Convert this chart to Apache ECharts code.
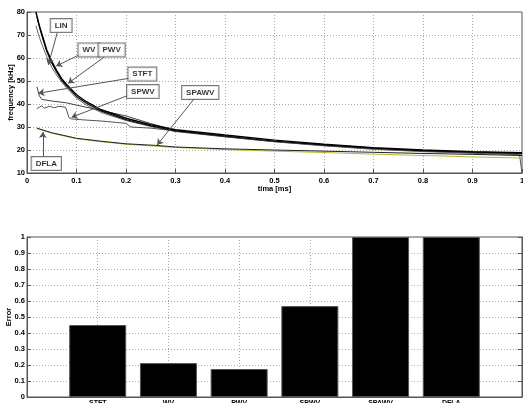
<!DOCTYPE html>
<html>
<head>
<meta charset="utf-8">
<script src="https://cdn.jsdelivr.net/npm/echarts@6/dist/echarts.min.js"></script>
<style>
  html, body { margin: 0; padding: 0; background: #fff; }
  #chart { width: 523px; height: 403px; }
</style>
</head>
<body>
<div id="chart"></div>
<script>
// top panel: estimated frequency curves [time ms, kHz]
const linData = [[0.018, 80], [0.025, 74], [0.03, 70.5], [0.04, 63.5], [0.05, 58.5], [0.06, 54.5], [0.07, 51], [0.08, 48.5], [0.1, 44], [0.12, 41], [0.15, 37.5], [0.2, 33.8], [0.25, 31], [0.3, 28.8], [0.4, 26.5], [0.5, 24.3], [0.6, 22.5], [0.7, 21], [0.8, 20], [0.9, 19.3], [1.0, 18.8]];
const wvData = [[0.02, 78], [0.025, 73.5], [0.03, 69.8], [0.04, 62.8], [0.05, 57.8], [0.06, 53.8], [0.07, 50.3], [0.08, 47.8], [0.1, 43.3], [0.12, 40.3], [0.15, 36.9], [0.2, 33.2], [0.25, 30.5], [0.3, 28.3], [0.4, 26], [0.5, 23.8], [0.6, 22.2], [0.7, 20.8], [0.8, 19.7], [0.9, 19.1], [1.0, 18.6]];
const pwvData = [[0.018, 74], [0.025, 69], [0.03, 66], [0.04, 60.5], [0.05, 56], [0.06, 52.5], [0.07, 49.5], [0.08, 47], [0.1, 42.5], [0.12, 39.5], [0.15, 36.3], [0.2, 32.8], [0.25, 30.2], [0.3, 28], [0.4, 25.7], [0.5, 23.6], [0.6, 22], [0.7, 20.6], [0.8, 19.6], [0.9, 19], [1.0, 18.4]];
const stftData = [[0.02, 47.5], [0.025, 43.5], [0.03, 42], [0.05, 41.3], [0.08, 40.5], [0.1, 39.5], [0.15, 37.2], [0.2, 34.8], [0.25, 31.5], [0.3, 28.5], [0.4, 26], [0.5, 23.8], [0.6, 22], [0.7, 20.5], [0.8, 19.5], [0.9, 18.8], [1.0, 18.2]];
const spwvData = [[0.02, 38], [0.025, 38.6], [0.03, 39.2], [0.035, 38.2], [0.045, 39], [0.055, 38.4], [0.065, 39], [0.078, 38.6], [0.085, 34], [0.09, 33.5], [0.12, 33], [0.15, 32.6], [0.2, 31.6], [0.21, 30], [0.25, 29.5], [0.3, 28.3], [0.4, 25.8], [0.5, 23.6], [0.6, 21.8], [0.7, 20.3], [0.8, 19.3], [0.9, 18.6], [0.995, 18], [1.0, 10]];
const spawvData = [[0.02, 29.5], [0.05, 27.5], [0.1, 25.1], [0.15, 23.8], [0.2, 22.7], [0.26, 22], [0.3, 21.3], [0.4, 20.5], [0.5, 20], [0.6, 19.5], [0.7, 19], [0.8, 18.5], [0.9, 18.1], [1.0, 17.6]];
const dflaData = [[0.02, 29.3], [0.05, 27.3], [0.1, 24.9], [0.15, 23.6], [0.2, 22.5], [0.3, 21.1], [0.4, 20.2], [0.5, 19.5], [0.6, 18.9], [0.7, 18.2], [0.8, 17.6], [0.9, 17], [1.0, 16.5]];

// annotation boxes and arrows, in data units of the top panel
const labelNames = ["LIN", "WV", "PWV", "STFT", "SPWV", "SPAWV", "DFLA"];
const labelPos = [[0.069, 74.1], [0.125, 63.5], [0.171, 63.5], [0.233, 53], [0.234, 45.4], [0.35, 45], [0.039, 14.1]];
const arrowFrom = [[0.061, 70.9], [0.109, 61.7], [0.156, 60.4], [0.21, 51.3], [0.206, 43.9], [0.339, 42.6], [0.032, 17]];
const arrowTo = [[0.043, 57], [0.059, 56.5], [0.083, 49], [0.023, 44.7], [0.09, 34.2], [0.263, 22.2], [0.032, 27.8]];

// bottom panel
const barCategories = ["STFT", "WV", "PWV", "SPWV", "SPAWV", "DFLA"];
const barValues = [0.45, 0.212, 0.175, 0.568, 1, 1];

const chart = echarts.init(document.getElementById("chart"));

const tickFont = { fontFamily: "Liberation Sans", fontSize: 7.5, fontWeight: "bold", color: "#000" };
const dotted = { show: true, lineStyle: { color: "#aaa", type: [1, 2], width: 1 } };

const lineSeries = (name, data, color, width) => ({
  name: name,
  type: "line",
  xAxisIndex: 0,
  yAxisIndex: 0,
  data: data,
  showSymbol: false,
  silent: true,
  lineStyle: { color: color, width: width },
  z: 3
});

const option = {
  animation: false,
  backgroundColor: "#fff",
  grid: [
    { left: 27, top: 12, right: 1, height: 161, outerBoundsMode: "none", containLabel: false, show: true, borderColor: "#555", borderWidth: 1 },
    { left: 27, top: 237, right: 1, height: 160, outerBoundsMode: "none", containLabel: false, show: true, borderColor: "#555", borderWidth: 1 }
  ],
  xAxis: [
    {
      gridIndex: 0, type: "value", min: 0, max: 1, interval: 0.1,
      name: "tima [ms]", nameLocation: "middle", nameGap: 12, nameMoveOverlap: false,
      nameTextStyle: tickFont,
      axisLine: { lineStyle: { color: "#555" } },
      axisTick: { inside: true, length: 4, lineStyle: { color: "#555" } },
      axisLabel: Object.assign({ margin: 4 }, tickFont),
      splitLine: dotted
    },
    {
      gridIndex: 1, type: "value", min: 0, max: 7, interval: 1,
      axisLine: { lineStyle: { color: "#555" } },
      axisTick: { show: false },
      axisLabel: Object.assign({
        margin: 3, fontSize: 7,
        formatter: v => barCategories[v - 1] || ""
      }, { fontFamily: "Liberation Sans", fontWeight: "bold", color: "#000" }),
      splitLine: dotted
    }
  ],
  yAxis: [
    {
      gridIndex: 0, type: "value", min: 10, max: 80, interval: 10,
      name: "frequency [kHz]", nameLocation: "middle", nameGap: 12, nameMoveOverlap: false,
      nameTextStyle: tickFont,
      axisLine: { show: true, lineStyle: { color: "#555" } },
      axisTick: { show: true, inside: true, length: 4, lineStyle: { color: "#555" } },
      axisLabel: Object.assign({ margin: 2 }, tickFont),
      splitLine: dotted
    },
    {
      gridIndex: 1, type: "value", min: 0, max: 1, interval: 0.1,
      name: "Error", nameLocation: "middle", nameGap: 14, nameMoveOverlap: false,
      nameTextStyle: tickFont,
      axisLine: { show: true, lineStyle: { color: "#555" } },
      axisTick: { show: true, inside: true, length: 4, lineStyle: { color: "#555" } },
      axisLabel: Object.assign({ margin: 2, formatter: v => String(+v.toFixed(1)) }, tickFont),
      splitLine: dotted
    },
    {
      gridIndex: 1, type: "value", min: 0, max: 1, interval: 0.1, position: "right",
      axisLine: { show: true, lineStyle: { color: "#555" } },
      axisTick: { show: true, inside: true, length: 4, lineStyle: { color: "#555" } },
      axisLabel: { show: false },
      splitLine: { show: false }
    }
  ],
  series: [
    lineSeries("PWV", pwvData, "#666", 1),
    lineSeries("STFT", stftData, "#444", 1),
    lineSeries("SPWV", spwvData, "#555", 1),
    lineSeries("DFLA", dflaData, "#b8b83a", 1),
    lineSeries("SPAWV", spawvData, "#222", 1),
    lineSeries("WV", wvData, "#111", 1.2),
    lineSeries("LIN", linData, "#000", 1.4),
    {
      type: "lines",
      coordinateSystem: "cartesian2d",
      xAxisIndex: 0,
      yAxisIndex: 0,
      silent: true,
      symbol: ["none", "arrow"],
      symbolSize: 6,
      lineStyle: { color: "#555", width: 1, opacity: 1 },
      data: arrowFrom.map((p, i) => ({ coords: [p, arrowTo[i]] })),
      z: 4
    },
    {
      type: "scatter",
      xAxisIndex: 0,
      yAxisIndex: 0,
      silent: true,
      symbolSize: 0,
      data: labelNames.map((n, i) => ({ name: n, value: labelPos[i] })),
      label: {
        show: true,
        position: "inside",
        formatter: p => p.name,
        fontFamily: "Liberation Sans",
        fontSize: 8,
        fontWeight: "bold",
        color: "#000",
        backgroundColor: "#fff",
        borderColor: "#555",
        borderWidth: 1,
        padding: [3, 4, 2, 4]
      },
      z: 5
    },
    {
      type: "bar",
      xAxisIndex: 1,
      yAxisIndex: 1,
      barWidth: 57,
      silent: true,
      data: barValues.map((v, i) => [i + 1, v]),
      itemStyle: { color: "#000", borderColor: "#555", borderWidth: 1 }
    }
  ]
};

chart.setOption(option);
</script>
</body>
</html>
